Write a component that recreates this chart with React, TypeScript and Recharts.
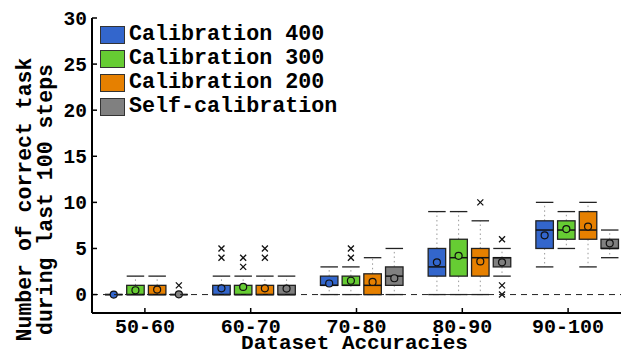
import React from "react";
import { BarChart, Bar, XAxis, YAxis, ReferenceLine, Legend } from "recharts";

const categories = ["50-60", "60-70", "70-80", "80-90", "90-100"];
const seriesNames = ["Calibration 400", "Calibration 300", "Calibration 200", "Self-calibration"];
const seriesColors = ["#3366cc", "#66cc33", "#e68000", "#808080"];
const yTicks = [0, 5, 10, 15, 20, 25, 30];
const Y_MIN = -2;
const Y_MAX = 30;

// per category: [lower whisker, Q1, median, Q3, upper whisker, mean]
const cal400Boxes = [
  [0, 0, 0, 0, 0, 0],
  [0, 0, 0, 1, 2, 0.68],
  [0, 1, 1, 2, 3, 1.2],
  [0, 2, 3, 5, 9, 3.5],
  [3, 5, 7, 8, 10, 6.43],
];
const cal400Outliers = [[], [4, 5], [], [], []];

const cal300Boxes = [
  [0, 0, 0, 1, 2, 0.47],
  [0, 0, 0, 1, 2, 0.83],
  [0, 1, 1, 2, 3, 1.5],
  [0, 2, 4, 6, 9, 4.2],
  [5, 6, 7, 8, 9, 7.1],
];
const cal300Outliers = [[], [3, 4], [4, 5], [], []];

const cal200Boxes = [
  [0, 0, 0, 1, 2, 0.54],
  [0, 0, 0, 1, 2, 0.68],
  [0, 0, 1, 2.25, 4, 1.37],
  [0, 2, 4, 5, 8, 3.6],
  [3, 6, 7, 9, 10, 7.37],
];
const cal200Outliers = [[], [4, 5], [], [10], []];

const selfBoxes = [
  [0, 0, 0, 0, 0, 0.03],
  [0, 0, 0, 1, 2, 0.65],
  [0, 1, 2, 3, 5, 1.77],
  [2, 3, 4, 4, 5, 3.5],
  [4, 5, 5, 6, 7, 5.56],
];
const selfOutliers = [[1], [], [], [0, 1, 6], []];

const seriesBoxes = [cal400Boxes, cal300Boxes, cal200Boxes, selfBoxes];
const seriesOutliers = [cal400Outliers, cal300Outliers, cal200Outliers, selfOutliers];

const data = categories.map((cat) => ({ cat }));

const FONT = '"Liberation Mono", "DejaVu Sans Mono", monospace';

function makeBoxShape(boxes: number[][], outliers: number[][], color: string) {
  return (props: any) => {
    const { x, y, width, height, payload } = props;
    const i = categories.indexOf(payload.cat);
    const [lo, q1, med, q3, hi, mean] = boxes[i];
    // bar spans the full y domain, so map values through its geometry
    const py = (v: number) => y + (height * (Y_MAX - v)) / (Y_MAX - Y_MIN);
    const cx = x + width / 2;
    return (
      <g>
        <line x1={cx} x2={cx} y1={py(q3)} y2={py(hi)} stroke="#999" strokeWidth={1} strokeDasharray="1.5 3" />
        <line x1={cx} x2={cx} y1={py(q1)} y2={py(lo)} stroke="#999" strokeWidth={1} strokeDasharray="1.5 3" />
        <line x1={x} x2={x + width} y1={py(hi)} y2={py(hi)} stroke="#222" strokeWidth={1.3} />
        <line x1={x} x2={x + width} y1={py(lo)} y2={py(lo)} stroke="#222" strokeWidth={1.3} />
        <rect x={x} y={py(q3)} width={width} height={py(q1) - py(q3)} fill={color} stroke="#222" strokeWidth={1.3} />
        <line x1={x} x2={x + width} y1={py(med)} y2={py(med)} stroke="#111" strokeWidth={1.5} />
        <circle cx={cx} cy={py(mean)} r={3.5} fill={color} stroke="#111" strokeWidth={1.2} />
        {outliers[i].map((o, k) => (
          <g key={k} stroke="#111" strokeWidth={1.3}>
            <line x1={cx - 3} x2={cx + 3} y1={py(o) - 3} y2={py(o) + 3} />
            <line x1={cx - 3} x2={cx + 3} y1={py(o) + 3} y2={py(o) - 3} />
          </g>
        ))}
      </g>
    );
  };
}

function XTick(props: any) {
  const { x, y, payload } = props;
  return (
    <g>
      <line x1={x} x2={x} y1={y} y2={y - 5} stroke="#000" strokeWidth={1.5} />
      <text x={x} y={y + 20} textAnchor="middle" fontFamily={FONT} fontWeight="bold" fontSize={20} fill="#000">
        {payload.value}
      </text>
    </g>
  );
}

function YTick(props: any) {
  const { x, y, payload } = props;
  return (
    <g>
      <line x1={x} x2={x + 5} y1={y} y2={y} stroke="#000" strokeWidth={1.5} />
      <text x={x - 5} y={y} dy="0.35em" textAnchor="end" fontFamily={FONT} fontWeight="bold" fontSize={19.5} fill="#000">
        {payload.value}
      </text>
    </g>
  );
}

function XLabel(props: any) {
  const { viewBox } = props;
  return (
    <text x={viewBox.x + viewBox.width / 2 - 2} y={viewBox.y + viewBox.height - 3} textAnchor="middle" fontFamily={FONT} fontWeight="bold" fontSize={21} fill="#000">
      Dataset Accuracies
    </text>
  );
}

function YLabel(props: any) {
  const { viewBox } = props;
  const cy = viewBox.y + viewBox.height / 2 + 34;
  const lines = ["Number of correct task", "during last 100 steps"];
  return (
    <g>
      {lines.map((t, k) => {
        const lx = viewBox.x + 31 + k * 21;
        return (
          <text key={k} x={lx} y={cy} transform={`rotate(-90 ${lx} ${cy})`} textAnchor="middle" fontFamily={FONT} fontWeight="bold" fontSize={21.5} fill="#000">
            {t}
          </text>
        );
      })}
    </g>
  );
}

function renderLegend(props: any) {
  const items = [...props.payload].sort(
    (a: any, b: any) => seriesNames.indexOf(a.value) - seriesNames.indexOf(b.value)
  );
  return (
    <div style={{ fontFamily: FONT, fontWeight: "bold", fontSize: 21.7, color: "#000", lineHeight: "24px" }}>
      {items.map((e: any) => (
        <div key={e.value} style={{ display: "flex", alignItems: "center", height: 24, whiteSpace: "pre" }}>
          <span style={{ display: "inline-block", width: 25, height: 18, background: e.color, border: "1.5px solid #333", boxSizing: "border-box", marginRight: 4 }} />
          <span>{e.value}</span>
        </div>
      ))}
    </div>
  );
}

export default function App() {
  return (
    <div style={{ position: "absolute", left: 0, top: 0, background: "#fff" }}>
      <BarChart width={621} height={352} data={data} margin={{ top: 18, right: 0, bottom: 0, left: 0 }} barSize={17.5} barGap={4.2}>
        <XAxis
          dataKey="cat"
          height={39}
          axisLine={{ stroke: "#000", strokeWidth: 2 }}
          tickLine={false}
          tickSize={0}
          tickMargin={0}
          tick={<XTick />}
          interval={0}
          label={{ content: <XLabel /> }}
        />
        <XAxis xAxisId="box" dataKey="cat" hide padding={{ left: 0, right: -9.6 }} />
        <YAxis
          width={92}
          domain={[Y_MIN, Y_MAX]}
          ticks={yTicks}
          type="number"
          allowDataOverflow
          axisLine={{ stroke: "#000", strokeWidth: 2 }}
          tickLine={false}
          tickSize={0}
          tickMargin={0}
          tick={<YTick />}
          label={{ content: <YLabel /> }}
        />
        <ReferenceLine y={0} stroke="#222" strokeWidth={1} strokeDasharray="6 5" />
        {seriesNames.map((name, s) => (
          <Bar
            key={name}
            name={name}
            xAxisId="box"
            dataKey={() => [Y_MIN, Y_MAX]}
            fill={seriesColors[s]}
            isAnimationActive={false}
            shape={makeBoxShape(seriesBoxes[s], seriesOutliers[s], seriesColors[s])}
          />
        ))}
        <Legend
          layout="vertical"
          verticalAlign="middle"
          align="center"
          content={renderLegend}
          wrapperStyle={{ left: 100, top: 23, width: "auto" }}
        />
      </BarChart>
    </div>
  );
}
